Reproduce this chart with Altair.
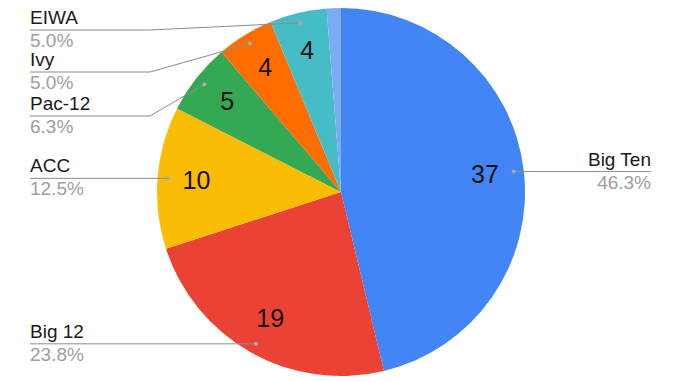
import math
import altair as alt
import pandas as pd

# ---- data ----
categories = ["Big Ten", "Big 12", "ACC", "Pac-12", "Ivy", "EIWA", "Other"]
values = [37, 19, 10, 5, 4, 4, 1]
labelled = [True, True, True, True, True, True, False]
colors = ["#4285F4", "#EA4335", "#FBBC04", "#34A853", "#FF6D01", "#46BDC6", "#7BAAF7"]

# ---- layout ----
W, H = 680, 382
CX, CY, R = 341, 192, 184
R_DOT, R_VAL = 174, 145
LEFT_X, RIGHT_X, ELBOW_X = 30, 651, 150
label_line_y = {"Pac-12": 116, "Ivy": 72, "EIWA": 30}  # labels pushed apart
FONT = "Liberation Sans"

total = sum(values)
pie_df = pd.DataFrame({
    "cat": categories,
    "value": values,
    "idx": list(range(len(values))),
    "vlabel": [str(v) if l else "" for v, l in zip(values, labelled)],
})

dots, lines, texts = [], [], []
cum = 0
for c, v, l in zip(categories, values, labelled):
    mid = (cum + v / 2) / total * 2 * math.pi
    cum += v
    if not l:
        continue
    dx = CX + R_DOT * math.sin(mid)
    dy = CY - R_DOT * math.cos(mid)
    dots.append({"cat": c, "x": dx, "y": dy})
    pct = math.floor(v / total * 1000 + 0.5) / 10
    right = math.sin(mid) > 0
    if right:
        ly = dy
        pts = [(dx, dy), (RIGHT_X, ly)]
        tx, al = RIGHT_X, "right"
    else:
        ly = label_line_y.get(c, dy)
        if c in label_line_y:
            pts = [(dx, dy), (ELBOW_X, ly), (LEFT_X, ly)]
        else:
            pts = [(dx, dy), (LEFT_X, ly)]
        tx, al = LEFT_X, "left"
    for i, (px, py) in enumerate(pts):
        lines.append({"cat": c, "seq": i, "x": px, "y": py})
    texts.append({"cat": c, "x": tx, "y": ly - 6, "t": c, "kind": "name", "align": al})
    texts.append({"cat": c, "x": tx, "y": ly + 17, "t": f"{pct:.1f}%", "kind": "pct", "align": al})

dots_df = pd.DataFrame(dots)
lines_df = pd.DataFrame(lines)
texts_df = pd.DataFrame(texts)

xs = alt.Scale(domain=[0, W], range=[0, W])
ys = alt.Scale(domain=[0, H], range=[0, H])
X = lambda: alt.X("x:Q", scale=xs, axis=None)
Y = lambda: alt.Y("y:Q", scale=ys, axis=None)

color_scale = alt.Scale(domain=categories, range=colors)

pie = alt.Chart(pie_df).mark_arc(outerRadius=R, x=CX, y=CY).encode(
    theta=alt.Theta("value:Q", stack=True),
    order=alt.Order("idx:Q"),
    color=alt.Color("cat:N", scale=color_scale, legend=None),
)

vals = alt.Chart(pie_df).mark_text(radius=R_VAL, x=CX, y=CY, font=FONT, fontSize=25,
                                   color="#111111", baseline="middle", align="center").encode(
    theta=alt.Theta("value:Q", stack=True),
    order=alt.Order("idx:Q"),
    text="vlabel:N",
)

leader = alt.Chart(lines_df).mark_line(color="#8c8c8c", strokeWidth=1).encode(
    x=X(), y=Y(), detail="cat:N", order="seq:Q"
)

dot = alt.Chart(dots_df).mark_circle(size=18, color="#a8a8a8", opacity=1).encode(x=X(), y=Y())

names_l = alt.Chart(texts_df).transform_filter(
    "datum.kind == 'name' && datum.align == 'left'").mark_text(
    font=FONT, fontSize=19, color="#1a1a1a", align="left", baseline="alphabetic").encode(x=X(), y=Y(), text="t:N")
names_r = alt.Chart(texts_df).transform_filter(
    "datum.kind == 'name' && datum.align == 'right'").mark_text(
    font=FONT, fontSize=19, color="#1a1a1a", align="right", baseline="alphabetic").encode(x=X(), y=Y(), text="t:N")
pct_l = alt.Chart(texts_df).transform_filter(
    "datum.kind == 'pct' && datum.align == 'left'").mark_text(
    font=FONT, fontSize=19, color="#9e9e9e", align="left", baseline="alphabetic").encode(x=X(), y=Y(), text="t:N")
pct_r = alt.Chart(texts_df).transform_filter(
    "datum.kind == 'pct' && datum.align == 'right'").mark_text(
    font=FONT, fontSize=19, color="#9e9e9e", align="right", baseline="alphabetic").encode(x=X(), y=Y(), text="t:N")

chart = alt.layer(pie, vals, leader, dot, names_l, names_r, pct_l, pct_r).resolve_scale(
    theta="shared"
).properties(
    width=W, height=H, padding=0, autosize="none", background="#ffffff"
).configure_view(stroke=None)

chart.save("out.html", embed_options={"renderer": "svg", "actions": False})
